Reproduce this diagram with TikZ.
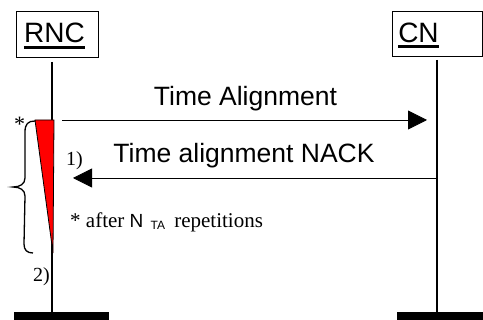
\documentclass[tikz,border=0pt]{standalone}
\usepackage{fontspec}
\setmainfont{Liberation Serif}
\setsansfont{Liberation Sans}
\usetikzlibrary{arrows.meta}
\begin{document}
\begin{tikzpicture}[x=1pt,y=-1pt,
  entity/.style={draw, line width=0.8pt, anchor=north west, inner sep=0pt},
  etext/.style={font=\sffamily\fontsize{28}{28}\selectfont, anchor=base, inner sep=0pt},
  msg/.style={font=\sffamily\fontsize{26.5}{26.5}\selectfont, anchor=base, inner sep=0pt},
  note/.style={font=\fontsize{20}{20}\selectfont, anchor=base, inner sep=0pt},
  life/.style={line width=1.1pt},
  arr/.style={line width=0.8pt, -{Triangle[length=19pt,width=19pt]}},
  bar/.style={fill=black}]
\useasboundingbox (0,0) rectangle (483,320);
% entity boxes
\node[entity, minimum width=82pt, minimum height=46pt] (rnc) at (16,11) {};
\node[entity, minimum width=90pt, minimum height=45pt] (cn) at (392,11) {};
\node[etext] (rnct) at (54.5,43) {RNC};
\node[etext] (cnt) at (418.5,43) {CN};
\draw[line width=3pt] ([yshift=-5pt]rnct.base west) -- ([yshift=-5pt]rnct.base east);
\draw[line width=3pt] ([yshift=-4pt]cnt.base west) -- ([yshift=-4pt]cnt.base east);
% lifelines
\coordinate (rtop) at (52,62);
\coordinate (rbot) at (52,312);
\coordinate (ctop) at (437,60);
\coordinate (cbot) at (437,312);
\draw[life] (rtop) -- (rbot);
\draw[life] (ctop) -- (cbot);
\fill[bar] (14,312) rectangle (109,320);
\fill[bar] (397,312) rectangle (483,320);
% timer triangle
\filldraw[fill=red, draw=black, line width=0.8pt] (35,120) -- (54,120) -- (53,253) -- cycle;
% messages
\coordinate (m1s) at (62,120);
\coordinate (m1e) at (427,120);
\coordinate (m2s) at (436,178);
\coordinate (m2e) at (73,178);
\draw[arr] (m1s) -- (m1e);
\draw[arr] (m2s) -- (m2e);
\node[msg] (l1) at (245.5,106) {Time Alignment};
\node[msg] (l2) at (244,163) {Time alignment NACK};
% brace
\draw[line width=1.3pt] (35,121) .. controls (28,121) and (25,124) .. (25,132) -- (25,178)
  .. controls (25,184) and (20,187) .. (13,187) .. controls (20,187) and (25,190) .. (25,196)
  -- (24,244) .. controls (24,250) and (27,253) .. (33,253);
% notes
\node[note, font=\fontsize{22}{22}\selectfont] (star) at (19.5,132) {*};
\node[note] (n1) at (74.5,166) {1)};
\node[note] (n2) at (41.5,282) {2)};
\node[font=\fontsize{21}{21}\selectfont, anchor=base west, inner sep=0pt] (foot) at (70,228)
  {* after {\sffamily\fontsize{19}{19}\selectfont N}\hspace{2pt} \raisebox{-2pt}{\sffamily\fontsize{12}{12}\selectfont TA}\hspace{4pt} repetitions};
\end{tikzpicture}
\end{document}
